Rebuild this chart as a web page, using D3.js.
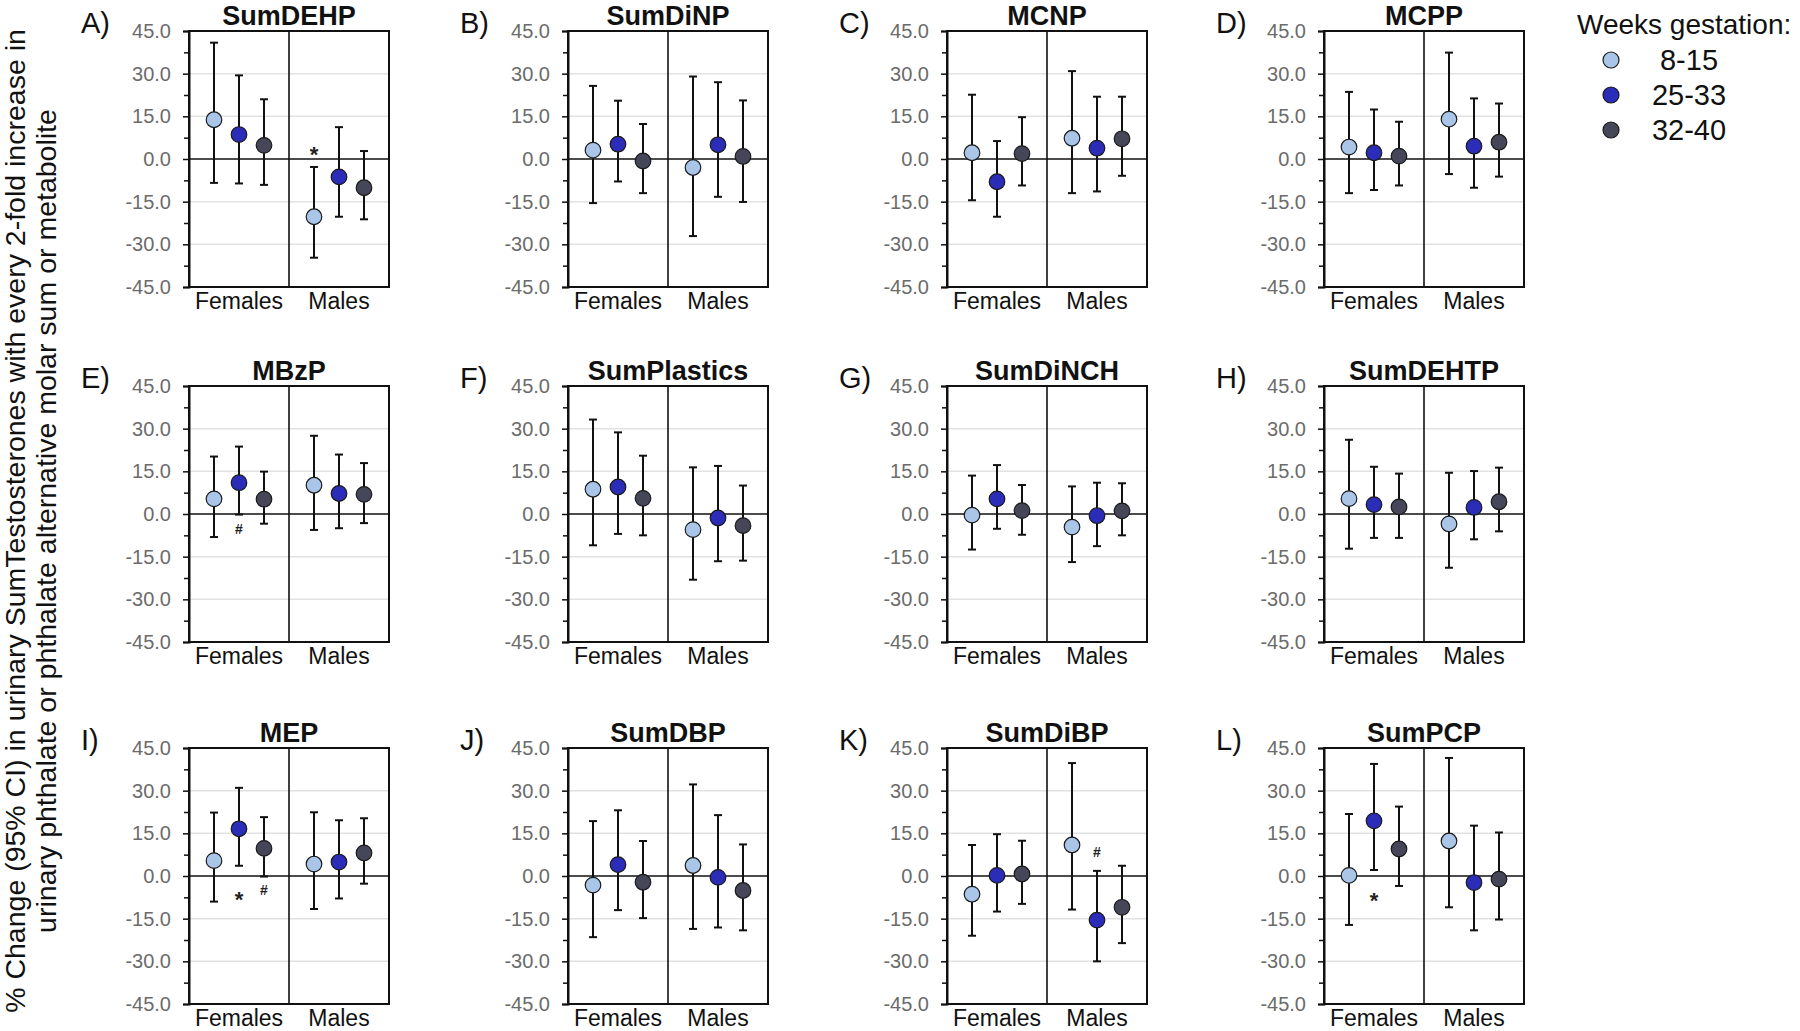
<!DOCTYPE html>
<html>
<head>
<meta charset="utf-8">
<script src="https://cdn.jsdelivr.net/npm/d3@7/dist/d3.min.js"></script>
<style>
  html, body { margin: 0; padding: 0; background: #fff; }
  svg text { font-family: "Liberation Sans", Arial, sans-serif; }
</style>
</head>
<body>
<svg id="chart" width="1800" height="1031"></svg>
<script>
// ---------------- DATA ----------------
const panelLetters = ["A)", "B)", "C)", "D)", "E)", "F)", "G)", "H)", "I)", "J)", "K)", "L)"];
const panelTitles = ["SumDEHP", "SumDiNP", "MCNP", "MCPP", "MBzP", "SumPlastics", "SumDiNCH", "SumDEHTP", "MEP", "SumDBP", "SumDiBP", "SumPCP"];
const groups = ["Females", "Males"];
const weeks = ["8-15", "25-33", "32-40"];
const yTicks = [-45, -30, -15, 0, 15, 30, 45];
const yMinorTicks = [-37.5, -22.5, -7.5, 7.5, 22.5, 37.5];
const yGrid = [-30, -15, 15, 30];

// order in each row: Females [8-15, 25-33, 32-40], Males [8-15, 25-33, 32-40]
const estimates = [
  [13.8, 8.6, 4.8, -20.3, -6.3, -10.1],
  [3.1, 5.2, -0.7, -3.0, 5.0, 0.9],
  [2.2, -8.0, 1.9, 7.3, 3.8, 7.1],
  [4.2, 2.2, 1.0, 14.0, 4.5, 5.9],
  [5.3, 11.0, 5.2, 10.1, 7.2, 6.9],
  [8.7, 9.5, 5.5, -5.5, -1.4, -4.1],
  [-0.4, 5.3, 1.2, -4.6, -0.6, 1.1],
  [5.4, 3.3, 2.5, -3.5, 2.3, 4.3],
  [5.4, 16.6, 9.7, 4.2, 4.9, 8.1],
  [-3.2, 4.0, -2.2, 3.7, -0.5, -5.1],
  [-6.4, 0.2, 0.7, 10.9, -15.5, -11.0],
  [0.2, 19.4, 9.5, 12.3, -2.3, -1.1]
];
const lowerCI = [
  [-8.4, -8.6, -9.1, -34.7, -20.3, -21.2],
  [-15.5, -7.9, -12.0, -27.1, -13.3, -15.1],
  [-14.5, -20.3, -9.3, -12.0, -11.4, -5.9],
  [-12.0, -10.9, -9.3, -5.3, -10.1, -6.2],
  [-8.1, -0.2, -3.4, -5.6, -5.0, -3.2],
  [-11.0, -7.0, -7.5, -23.1, -16.6, -16.4],
  [-12.5, -5.2, -7.3, -16.9, -11.3, -7.5],
  [-12.2, -8.4, -8.4, -18.9, -8.9, -6.1],
  [-9.0, 3.6, -0.2, -11.6, -7.9, -2.7],
  [-21.5, -12.0, -14.8, -18.6, -18.1, -19.1],
  [-21.0, -12.5, -9.8, -11.8, -30.0, -23.6],
  [-17.2, 2.1, -3.5, -11.0, -19.1, -15.3]
];
const upperCI = [
  [40.9, 29.4, 21.0, -2.8, 11.2, 2.8],
  [25.7, 20.5, 12.3, 29.0, 27.0, 20.6],
  [22.6, 6.3, 14.7, 30.9, 21.9, 21.9],
  [23.6, 17.4, 13.1, 37.4, 21.3, 19.5],
  [20.2, 23.7, 14.9, 27.5, 20.9, 17.9],
  [33.2, 28.7, 20.5, 16.4, 16.9, 10.0],
  [13.5, 17.2, 10.2, 9.7, 11.0, 10.8],
  [26.1, 16.6, 14.2, 14.5, 15.1, 16.3],
  [22.3, 31.0, 20.7, 22.4, 19.6, 20.3],
  [19.3, 23.1, 12.3, 32.2, 21.4, 11.1],
  [10.9, 14.7, 12.4, 39.7, 1.8, 3.6],
  [21.8, 39.4, 24.4, 41.5, 17.7, 15.3]
];
// significance marks: panel index, group index, week index, symbol, y value
const markPanel = [0, 4, 8, 8, 10, 11];
const markGroup = [1, 0, 0, 0, 1, 0];
const markWeek = [0, 1, 1, 2, 1, 1];
const markSymbol = ["*", "#", "*", "#", "#", "*"];
const markValue = [4.5, -5.2, -5.4, -5.1, 8.3, -6.0];

const legendTitle = "Weeks gestation:";
const yLabelLines = [
  "% Change (95% CI) in urinary SumTestosterones with every 2-fold increase in",
  "urinary phthalate or phthalate alternative molar sum or metabolite"
];

// ---------------- STYLE / LAYOUT ----------------
const fills = ["#a9c5e7", "#2b2db8", "#454658"];
const colLeft = [189, 568, 947, 1324];
const rowTop = [31, 386, 748];
const W = 200, H = 256;

const svg = d3.select("#chart");

const y = d3.scaleLinear().domain([-45, 45]).range([H, 0]);
const xGroup = d3.scaleBand().domain(groups).range([0, W]);
const xWeek = d3.scalePoint().domain(weeks).range([0, xGroup.bandwidth()]).padding(1);

panelTitles.forEach((title, p) => {
  const col = p % 4, row = Math.floor(p / 4);
  const g = svg.append("g").attr("transform", `translate(${colLeft[col]},${rowTop[row]})`);

  // gridlines
  g.selectAll(".grid").data(yGrid).join("line")
    .attr("x1", 0).attr("x2", W)
    .attr("y1", d => y(d)).attr("y2", d => y(d))
    .attr("stroke", "#e2e2e2").attr("stroke-width", 1.5);

  // zero line
  g.append("line").attr("x1", 0).attr("x2", W).attr("y1", y(0)).attr("y2", y(0))
    .attr("stroke", "#111").attr("stroke-width", 1.6);
  // divider
  g.append("line").attr("x1", xGroup("Males")).attr("x2", xGroup("Males")).attr("y1", 0).attr("y2", H)
    .attr("stroke", "#111").attr("stroke-width", 1.6);
  // box
  g.append("rect").attr("x", 0).attr("y", 0).attr("width", W).attr("height", H)
    .attr("fill", "none").attr("stroke", "#111").attr("stroke-width", 2);

  // axis major
  const axis = g.append("g").call(
    d3.axisLeft(y).tickValues(yTicks).tickFormat(d => d.toFixed(1)).tickSize(6).tickPadding(12)
  );
  axis.select(".domain").attr("stroke", "#111").attr("stroke-width", 2);
  axis.selectAll(".tick line").attr("stroke", "#111").attr("stroke-width", 1.5);
  axis.selectAll(".tick text").attr("fill", "#6b6b6b").style("font-size", "20px")
    .style("font-family", '"Liberation Sans", Arial, sans-serif');
  // axis minor
  const minor = g.append("g").call(d3.axisLeft(y).tickValues(yMinorTicks).tickFormat("").tickSize(5));
  minor.select(".domain").remove();
  minor.selectAll(".tick line").attr("stroke", "#111").attr("stroke-width", 1.5);

  // category labels
  g.selectAll(".cat").data(groups).join("text")
    .attr("x", d => xGroup(d) + xGroup.bandwidth() / 2)
    .attr("y", H + 22)
    .attr("text-anchor", "middle")
    .style("font-size", "23px").attr("fill", "#111")
    .text(d => d);

  // title
  g.append("text").attr("x", W / 2).attr("y", -6).attr("text-anchor", "middle")
    .style("font-size", "27px").style("font-weight", "bold").attr("fill", "#111")
    .text(title);
  // panel letter
  g.append("text").attr("x", -108).attr("y", 2)
    .style("font-size", "29px").attr("fill", "#111")
    .text(panelLetters[p]);

  // points
  const pts = [];
  groups.forEach((grp, gi) => {
    weeks.forEach((wk, wi) => {
      const k = gi * 3 + wi;
      pts.push({ x: xGroup(grp) + xWeek(wk), est: estimates[p][k], lo: lowerCI[p][k], hi: upperCI[p][k], wi });
    });
  });

  const eb = g.selectAll(".eb").data(pts).join("g");
  eb.append("line").attr("x1", d => d.x).attr("x2", d => d.x)
    .attr("y1", d => y(d.lo)).attr("y2", d => y(d.hi))
    .attr("stroke", "#111").attr("stroke-width", 2);
  eb.append("line").attr("x1", d => d.x - 4).attr("x2", d => d.x + 4)
    .attr("y1", d => y(d.hi)).attr("y2", d => y(d.hi))
    .attr("stroke", "#111").attr("stroke-width", 2);
  eb.append("line").attr("x1", d => d.x - 4).attr("x2", d => d.x + 4)
    .attr("y1", d => y(d.lo)).attr("y2", d => y(d.lo))
    .attr("stroke", "#111").attr("stroke-width", 2);
  eb.append("circle").attr("cx", d => d.x).attr("cy", d => y(d.est)).attr("r", 7.8)
    .attr("fill", d => fills[d.wi]).attr("stroke", "#1a1a1a").attr("stroke-width", 1.2);

  // significance marks
  markPanel.forEach((mp, i) => {
    if (mp !== p) return;
    const sym = markSymbol[i];
    g.append("text")
      .attr("x", xGroup(groups[markGroup[i]]) + xWeek(weeks[markWeek[i]]))
      .attr("y", y(markValue[i]))
      .attr("text-anchor", "middle")
      .attr("dy", sym === "*" ? "0.7em" : "0.35em")
      .style("font-size", sym === "*" ? "22px" : "14px")
      .style("font-weight", "bold")
      .attr("fill", "#222")
      .text(sym);
  });
});

// legend
const lg = svg.append("g");
lg.append("text").attr("x", 1577).attr("y", 34).style("font-size", "28px").attr("fill", "#111").text(legendTitle);
weeks.forEach((wk, i) => {
  const cy = 60 + i * 35;
  lg.append("circle").attr("cx", 1611).attr("cy", cy).attr("r", 8)
    .attr("fill", fills[i]).attr("stroke", "#1a1a1a").attr("stroke-width", 1.2);
  lg.append("text").attr("x", 1689).attr("y", cy).attr("dy", "0.35em").attr("text-anchor", "middle")
    .style("font-size", "29px").attr("fill", "#111").text(wk);
});

// y-axis label
const yl = svg.append("text").attr("transform", "translate(0,521) rotate(-90)")
  .attr("text-anchor", "middle").style("font-size", "28.5px").attr("fill", "#111");
yLabelLines.forEach((ln, i) => {
  yl.append("tspan").attr("x", 0).attr("y", 25 + i * 31).text(ln);
});
</script>
</body>
</html>
